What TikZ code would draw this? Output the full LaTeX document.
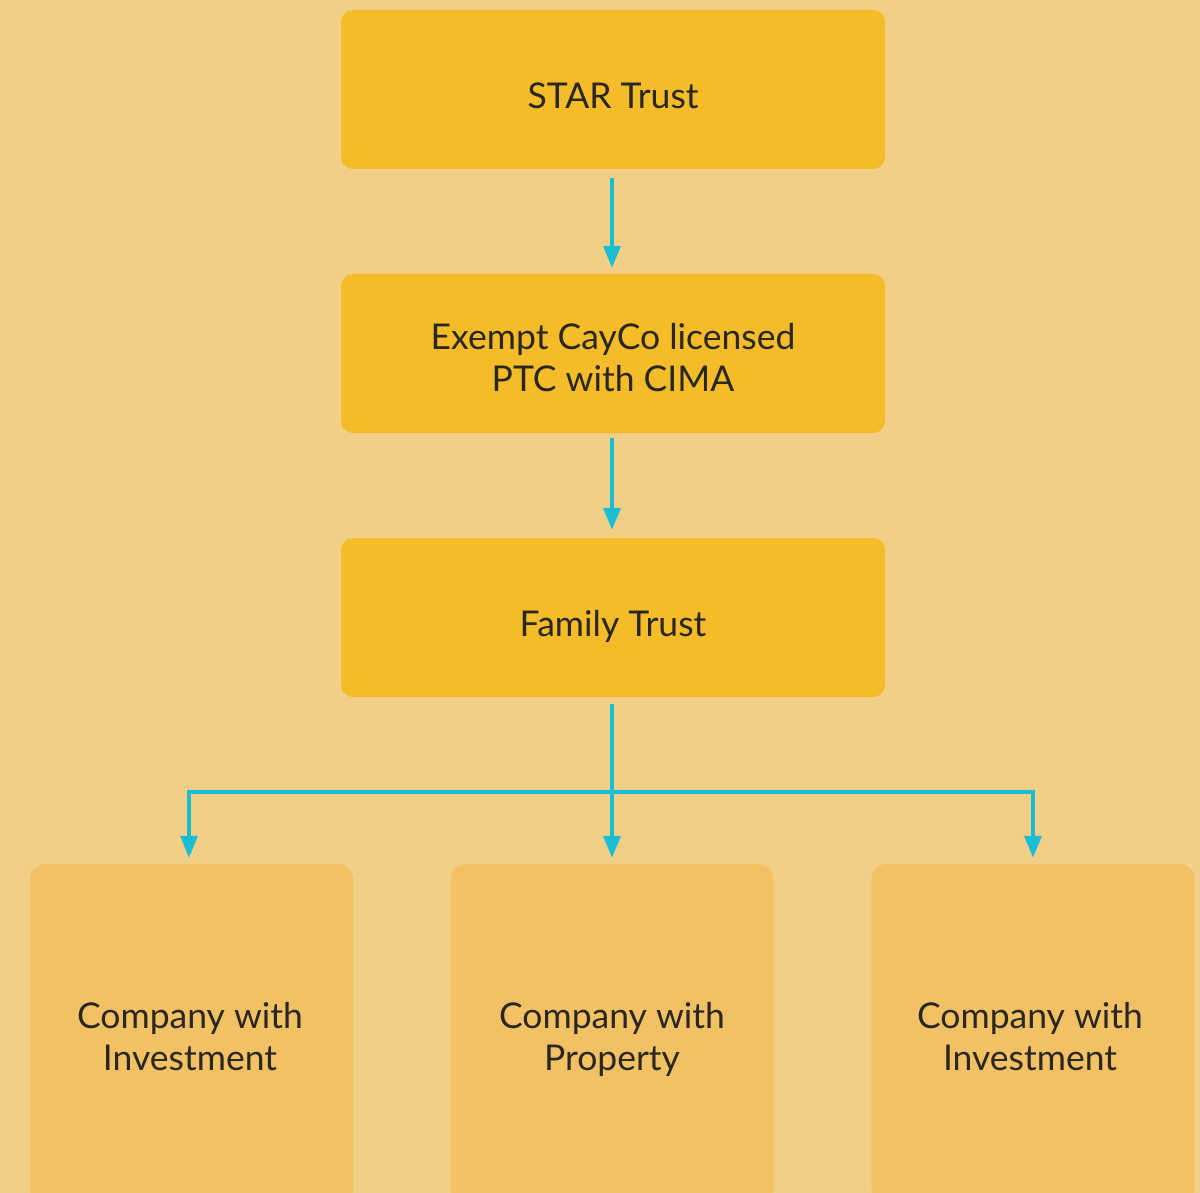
\documentclass[tikz,border=0pt]{standalone}
\usepackage{fontspec}
\setmainfont{Lato}
\usetikzlibrary{arrows.meta}
\definecolor{bg}{HTML}{F2CF87}
\definecolor{topbox}{HTML}{F4BC28}
\definecolor{botbox}{HTML}{F2C164}
\definecolor{arr}{HTML}{1BBDD4}
\definecolor{txt}{HTML}{2A2622}
\tikzset{
  topnode/.style={fill=topbox, rounded corners=12pt, minimum width=544pt, minimum height=159pt, inner sep=0pt},
  botnode/.style={fill=botbox, rounded corners=15pt, minimum width=323pt, minimum height=340pt, inner sep=0pt},
  lbl/.style={align=center, text=txt, inner sep=0pt, font=\fontsize{35.5}{41.5}\selectfont},
  conn/.style={draw=arr, line width=3.6pt, -{Triangle[width=17pt,length=22pt]}},
  link/.style={draw=arr, line width=3.6pt}
}
\begin{document}
\begin{tikzpicture}[x=1pt,y=-1pt]
\useasboundingbox (0,0) rectangle (1200,1193);
\fill[bg] (0,0) rectangle (1200,1193);
\node[topnode] (star) at (613,89.5) {};
\node[topnode] (ptc) at (613,353.5) {};
\node[topnode] (fam) at (613,617.5) {};
\node[botnode] (c1) at (191.5,1034) {};
\node[botnode] (c2) at (612,1034) {};
\node[botnode] (c3) at (1033,1034) {};
\node[lbl] (tstar) at (613,100) {STAR Trust\strut};
\node[lbl] (tptc) at (613,362) {Exempt CayCo licensed\strut\\PTC with CIMA\strut};
\node[lbl] (tfam) at (613,628) {Family Trust\strut};
\node[lbl] (tc1) at (190,1041) {Company with\strut\\Investment\strut};
\node[lbl] (tc2) at (612,1041) {Company with\strut\\Property\strut};
\node[lbl] (tc3) at (1030,1041) {Company with\strut\\Investment\strut};
\coordinate (j) at (612,792);
\coordinate (jl) at (189,792);
\coordinate (jr) at (1033,792);
\draw[conn] ([yshift=-9pt]star.south -| j) -- ([yshift=6pt]ptc.north -| j);
\draw[conn] ([yshift=-5pt]ptc.south -| j) -- ([yshift=8pt]fam.north -| j);
\draw[link] ([yshift=-7pt]fam.south -| j) -- (j);
\draw[link] ([xshift=-1.8pt]jl) -- ([xshift=1.8pt]jr);
\draw[conn] (j) -- ([yshift=6pt]c2.north -| j);
\draw[conn] ([yshift=1.8pt]jl) -- ([yshift=6pt]c1.north -| jl);
\draw[conn] ([yshift=1.8pt]jr) -- ([yshift=6pt]c3.north -| jr);
\end{tikzpicture}
\end{document}
